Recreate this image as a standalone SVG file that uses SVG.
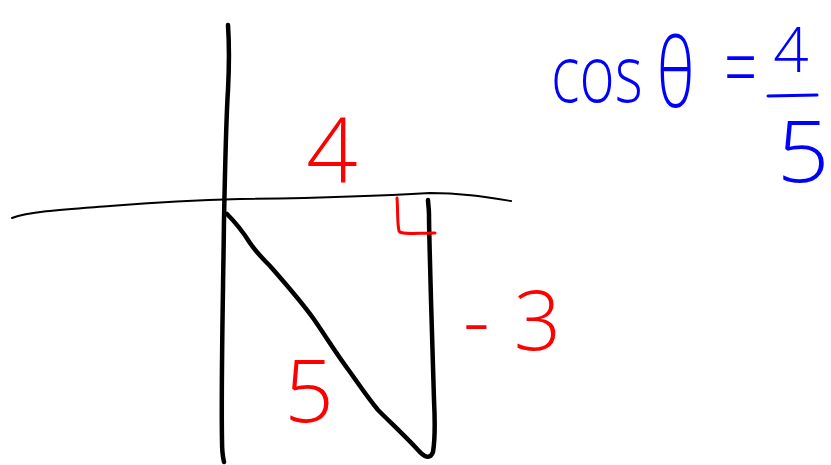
<svg xmlns="http://www.w3.org/2000/svg" width="831" height="465" viewBox="0 0 831 465">
<style>
.ink{fill:none;stroke:#000;stroke-linecap:round;stroke-linejoin:round}
.thin{stroke-width:2}
.thick{stroke-width:4.5}
.red{font-family:"Open Sans","Liberation Sans",Arial,sans-serif;font-weight:300;fill:#ff0000}
.blue{font-family:"Open Sans","Liberation Sans",Arial,sans-serif;font-weight:300;fill:#0000ff}
</style>
<rect width="831" height="465" fill="#fff"/>
<g id="axes">
<path class="ink thick" d="M228,25 C229,40 229,70 228,90 C226,120 225,170 224,220 C223,300 221,380 222,440 C222,452 223,458 224,462"/>
<path class="ink thin" d="M12,218 C30,211 70,209 110,206 C160,202 200,200 240,199 C320,198 380,196 430,193 C460,193 485,197 511,201"/>
</g>
<g id="triangle">
<path class="ink thick" d="M227,214 C235,222 245,235 250,243 C256,252 262,258 270,266 C285,283 300,300 313,318 C325,335 335,352 350,372 C360,386 368,398 378,410 C392,424 405,436 418,450 C424,457 430,460 433,452 C435,440 435,420 434,400 C433,370 432,330 431,300 C430,260 429,230 429,215 C429,208 428,203 428,200"/>
</g>
<g id="angle-mark">
<path d="M397,198 C398,210 397,222 399,231 C401,235 415,233 435,233" fill="none" stroke="#ff0000" stroke-width="3" stroke-linecap="round" stroke-linejoin="round"/>
</g>
<g id="labels">
<text class="red" x="332" y="183" font-size="90" text-anchor="middle">4</text>
<text class="red" x="463" y="350" font-size="83">-<tspan dx="24">3</tspan></text>
<text class="red" x="309" y="422" font-size="87" text-anchor="middle">5</text>
</g>
<g id="formula">
<text class="blue" transform="translate(551,102) scale(0.75,1)" x="0" y="0" font-size="80">cos</text>
<text class="blue" transform="translate(657,107) scale(0.68,1)" x="0" y="0" font-size="96">θ</text>
<text class="blue" transform="translate(724,98) scale(0.66,1)" x="0" y="0" font-size="88">=</text>
<text class="blue" x="791" y="72" font-size="62" text-anchor="middle">4</text>
<path d="M768,96 L817,95" stroke="#0000ff" stroke-width="3" stroke-linecap="round"/>
<text class="blue" transform="translate(803,182) scale(1.1,1)" x="0" y="0" font-size="84" text-anchor="middle">5</text>
</g>
</svg>
